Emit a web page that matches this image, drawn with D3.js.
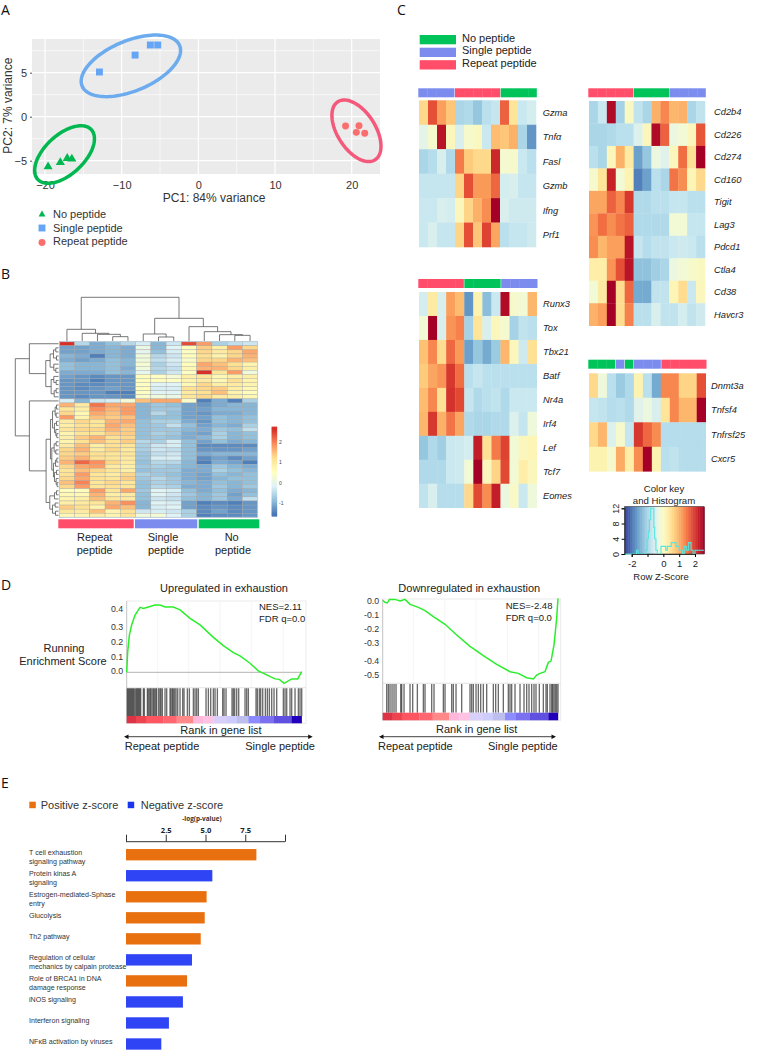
<!DOCTYPE html>
<html><head><meta charset="utf-8">
<script src="https://cdn.jsdelivr.net/npm/d3@7/dist/d3.min.js"></script>
<style>html,body{margin:0;padding:0;background:#fff}svg{display:block}text{font-family:"Liberation Sans",Arial,sans-serif}</style>
</head><body><svg id="c" width="775" height="1050"></svg>
<script>
// ---------- A: PCA
const pcaNo=[[-19.6,-5.68],[-18,-5.2],[-17.1,-4.73],[-16.5,-4.8]];
const pcaSingle=[[-12.9,5.08],[-8.25,7.0],[-6.26,8.15],[-5.3,8.15]];
const pcaRepeat=[[19.2,-1.06],[20.95,-1.03],[20.6,-1.78],[21.7,-1.89]];
// cx, cy, half-width, half-height, correlation (data units)
const pcaEllipses=[[-17.45,-4.3,3.9,3.27,.55,"#00B84F"],[-8.8,5.78,6.48,3.5,.5,"#6CABEE"],[20.62,-1.6,3.2,3.5,-.5,"#F4587A"]];
const pcaLegend=["No peptide","Single peptide","Repeat peptide"];
// ---------- B: clustered heatmap
const bColumnGroups=["Repeat\npeptide","Single\npeptide","No\npeptide"];
const bMatrix=[
[2.6,-.5,-1.0,-.8,-.5,-.2,-.9,-.3,2.4,1.8,-.6,-.4,-.3],
[-1.1,-1.1,-1.0,-.9,-1.0,.1,-.9,-.1,.6,1.4,.9,1.8,1.3],
[-1.1,-1.1,-1.0,-.9,-1.0,.0,-.8,-.2,.5,1.3,1.0,1.3,1.7],
[-.9,-1.0,-1.4,-.9,-1.0,.2,-.5,-.3,.6,1.2,.8,1.3,1.6],
[-1.0,-1.1,-1.0,-.8,-.9,.2,-.4,-.2,.4,1.3,1.3,1.6,1.5],
[-.8,-.9,-.9,-.8,-.9,.3,-.6,-.3,.6,1.7,1.5,1.2,.8],
[-.8,-.9,-.9,-.8,-1.0,.2,-.5,-.4,.7,1.6,1.6,1.3,.9],
[-1.0,-1.0,-1.0,-.8,-.9,.0,-.6,-.3,.5,2.6,1.1,1.8,.2],
[-1.1,-1.2,-1.3,-1.2,-1.2,.6,.5,.3,.9,1.1,.7,.9,.9],
[-1.2,-1.2,-1.4,-1.2,-1.2,.6,.6,.5,.8,1.0,.7,1.2,.8],
[-1.2,-1.3,-1.3,-1.2,-1.2,.5,-.1,-.1,.7,1.3,.9,1.0,.8],
[-1.2,-1.3,-1.2,-1.1,-1.2,.6,-.2,-.2,1.2,1.3,1.4,.9,.7],
[-1.2,-1.2,-1.2,-1.4,-1.4,.5,-.1,-.1,1.0,1.2,1.5,.8,.6],
[-1.2,-1.3,-1.2,-1.2,-1.3,.4,.2,.1,1.1,1.3,1.0,.9,.7],
[-.2,-.9,-.3,-.2,.3,1.5,1.7,1.7,.4,-1.4,-1.0,-1.4,-.6],
[1.6,1.0,2.1,1.7,1.7,-.9,-.7,-.8,-1.1,-1.2,-1.0,-.9,-.9],
[1.1,.9,1.9,1.6,1.8,-.9,-.7,-.7,-1.1,-1.1,-.9,-.9,-.9],
[1.3,.7,1.7,1.5,1.8,-.9,-.5,-.8,-1.1,-1.2,-1.0,-1.0,-.9],
[1.8,.8,1.5,1.4,1.5,-.9,-.8,-.8,-1.1,-1.1,-.8,-.9,-.8],
[1.0,1.3,1.1,1.6,1.7,-.8,-.6,-.6,-1.0,-1.2,-.8,-.9,-.8],
[.9,1.2,1.1,1.7,1.5,-.8,-.7,-.4,-.8,-1.1,-.9,-1.0,-.6],
[1.1,1.3,1.3,1.6,1.4,-.8,-.7,-.7,-.9,-1.0,-.7,-.8,-.4],
[.8,1.1,1.1,1.4,1.4,-.8,-.6,-.7,-1.0,-1.1,-.6,-.9,-.8],
[.9,1.4,1.6,1.2,1.3,-.8,-.7,-.8,-1.0,-.9,-.6,-.9,-.8],
[.8,1.2,1.5,1.2,1.4,-.5,-.6,-.2,-.8,-1.1,-.8,-1.0,-.9],
[1.0,1.5,.9,1.2,1.1,-.6,-.3,-.2,-.8,-1.3,-1.3,-1.3,-1.3],
[1.3,1.6,1.0,1.3,1.0,-.6,-.3,-.4,-.8,-1.2,-1.2,-1.2,-1.1],
[1.3,1.4,1.2,1.1,1.1,-.7,-.4,-.3,-.8,-1.0,-.9,-.9,-.9],
[1.4,1.6,1.2,1.1,1.0,-.7,-.2,-.2,-.8,-1.3,-1.1,-1.3,-1.1],
[1.6,2.2,1.9,1.3,1.0,-.8,-.5,-.5,-.9,-1.4,-1.0,-1.1,-1.4],
[1.3,1.7,1.8,1.0,.9,-.7,-.6,-.7,-.9,-1.0,-.7,-.9,-1.0],
[1.1,1.5,1.3,1.1,.9,-.8,-.7,-.7,-1.0,-1.0,-.6,-.8,-.9],
[1.2,1.8,1.1,1.0,1.3,-.6,-.7,-.8,-1.0,-1.1,-.8,-.9,-.8],
[1.3,1.7,1.2,1.1,1.4,-.7,-.5,-.7,-1.0,-1.1,-.9,-.8,-.8],
[1.5,2.0,1.1,1.3,1.1,-.8,-.6,-.7,-.9,-1.0,-.8,-.9,-.8],
[1.3,1.8,1.1,1.2,1.1,-.8,-.5,-.6,-1.0,-1.0,-.7,-.9,-.7],
[.6,.6,1.8,1.1,1.7,-.7,-.1,-.2,-.8,-1.0,-.8,-1.0,-.9],
[.7,.7,1.6,.9,1.0,-.8,-.1,-.3,-.7,-.9,-.7,-1.1,-.8],
[.8,.9,1.5,1.1,1.0,-.8,-.3,-.4,-.8,-.9,-.7,-1.0,-.4],
[.9,1.0,1.1,1.6,1.9,-.9,-.1,-.2,-1.1,-1.4,-1.3,-1.4,-1.2],
[1.4,1.2,.8,1.7,1.5,-.9,-.2,-.1,-1.1,-1.3,-1.2,-1.3,-1.2],
[1.1,1.0,1.5,.8,1.2,-.3,-.2,-.3,-.6,-1.3,-1.1,-1.3,-1.2],
[.7,.8,1.0,.8,1.1,.2,.3,-.1,-.6,-1.4,-1.3,-1.3,-1.2]];
// dendrograms: [height, left, right]; numbers are leaf indices
const bColumnTree=[131,[35,0,[23,1,[20,2,[13,3,4]]]],[68,[21,5,[12,6,7]],[43,8,[28,9,[19,10,[17,11,12]]]]]];
const bRowTree=[129,[87,0,[38,[25,[15,[8,1,2],[6,3,4]],[14,5,[8,6,7]]],[22,[14,8,[7,9,10]],[13,[7,11,12],13]]]],
 [87,14,[37,[24,[18,[10,[6,15,16],[7,17,18]],[12,[6,19,20],[8,21,[5,22,23]]]],[20,[13,[7,24,25],[8,26,27]],[15,[9,[5,28,29],30],[12,[6,31,32],[7,33,[4,34,35]]]]]],
 [26,[12,[6,36,37],38],[18,[10,39,40],[9,41,42]]]]]];
const bLegendTicks=[2,1,0,-1];
// ---------- C: gene heatmaps
const cLegend=["No peptide","Single peptide","Repeat peptide"];
const cGenes1=["Gzma","Tnfα","Fasl","Gzmb","Ifng","Prf1"];
const cValues1=[
[.55,1.75,1.1,.75,-1,-.95,-1.2,-.85,-.75,1.6,.4,-.7,-.6],
[-.4,-.1,2.3,.05,-.55,-.1,0,-.7,.85,.75,.95,-1,-1.7],
[-1,-.9,-.55,-.95,1.4,.7,.55,.55,2.1,-.15,-.1,-.7,-.85],
[-.75,-.75,-.75,-.75,.6,1.75,1.15,1.15,1.55,-.6,-.55,-.75,-.75],
[-.7,-.7,-.55,-.6,.05,.6,.95,1.25,2.5,-.55,-.65,-.65,-.65],
[-.7,-.55,-.75,-.75,.6,1.75,.75,1.85,1.05,-.85,-.75,-.75,-.65]];
const cGroups1=["S","S","S","S","R","R","R","R","R","N","N","N","N"];
const cGenes2=["Cd2b4","Cd226","Cd274","Cd160","Tigit","Lag3","Pdcd1","Ctla4","Cd38","Havcr3"];
const cValues2=[
[-1,-.7,2.4,-1.05,0,-.8,-1,.95,1.3,.9,.95,-1,-.8],
[-1,-1,-.95,-.85,-.85,-.5,.05,2.4,1.6,-.3,-.2,.05,1.7],
[-.85,-1,.05,.95,.3,-1.6,-1.2,-.3,-.45,.05,1.5,.45,2.5],
[-.1,.4,2.15,-.2,.15,-1.9,-1.6,-.85,-1,1.45,1.25,.1,.55],
[1.05,1.05,1.6,1.3,1.95,-.95,-.95,-.85,-.85,-.75,-.75,-.85,-.85],
[1.2,1.5,1.25,1.45,1.6,-.95,-.95,-.95,-.95,-.2,-.2,-.75,-.75],
[1.25,.9,1.1,1.1,2.3,-.75,-.9,-.8,-.8,-.7,-.65,-.7,-.85],
[.25,.25,1.2,1.75,2.3,-1.25,-1.25,-1.1,-1,-.3,-.2,-.1,0],
[-.2,.3,2.5,.5,1.55,-1.5,-1.5,-.8,-.8,.1,.5,-.7,.05],
[.95,1.1,2.5,.5,1.35,-.85,-.85,-.55,-.8,-.8,-.6,-.8,-.65]];
const cGroups2=["R","R","R","R","R","N","N","N","N","S","S","S","S"];
const cGenes3=["Runx3","Tox","Tbx21","Batf","Nr4a","Irf4","Lef","Tcf7","Eomes"];
const cValues3=[
[-.6,.3,-.55,1.1,.85,-1.7,.15,-1.3,-.7,2.4,-.1,-.2,.9],
[-.2,2.5,-.55,1.2,1.35,-1.05,.4,-.55,.05,-.15,-1.05,-.8,-.85],
[.8,1.3,.5,1.55,1.15,-1.6,-1.2,-1.5,-1.15,.9,.05,-.65,.45],
[.7,1.05,1.2,1.95,1.5,-.85,-.75,-.85,-.85,-.85,-.85,-.85,-.85],
[.85,1.3,.45,2,1.8,-.75,-.95,-.85,-.8,-.95,-.7,-.7,-.7],
[.9,1.95,.95,1.45,1.05,-.95,-1,-1,-.95,-.95,-.5,-.75,-.25],
[-1.2,-.95,-1.1,-.7,-.65,-.6,2.2,.45,1.4,1.85,-.2,.05,.1],
[-.95,-.95,-.95,-.7,-.65,-.2,2.5,.05,.6,1.8,-.2,.25,.05],
[-.8,-.55,-.9,-.9,-.9,.55,1.8,1.25,2.2,-.3,-.05,-.7,-.25]];
const cGroups3=["R","R","R","R","R","N","N","N","N","S","S","S","S"];
const cGenes4=["Dnmt3a","Tnfsf4","Tnfrsf25","Cxcr5"];
const cValues4=[
[.55,-.25,-.85,-1.15,-.95,.15,-.85,-1.5,1.3,1.3,.6,.6,1.75],
[-.75,-.8,-.9,-.85,-.95,-.45,-.3,-.55,.4,1.3,.9,.9,2.5],
[.55,.9,-.5,-.1,-.75,1.95,1.55,1.25,-.9,-.9,-.9,-.9,-.9],
[.15,.15,-.1,1,.25,1.25,2.5,.15,-.85,-.8,-.9,-.9,-.9]];
const cGroups4=["N","N","N","S","N","S","S","S","R","R","R","R","R"];
const keyTicks=[-2,-1,0,1,2];
const keyCountTicks=[0,4,8,12];
const histEdges=[-2.45,-1.7,-1.6,-1.1,-1.02,-.95,-.88,-.8,-.6,-.55,-.47,-.38,-.25,-.15,.15,.25,.32,.5,.8,1.0,1.2,1.32,1.45,1.6,1.75,1.88,2.0,2.57];
const histCounts=[0,1,0,1,4,6,9,12,7,4,1,0,0,2,1,2,2,3,2,1,0,2,1,3,1,0,1,1];
// ---------- D: enrichment plots
const esUpRank=[0,3,8,15,25,40,50,65,85,100,115,140,160,190,220,260,290,320,340,370,395,420,445,458,472,495,513,525];
const esUpScore=[0,.135,.243,.31,.374,.424,.417,.426,.439,.439,.426,.426,.407,.352,.309,.228,.174,.128,.107,.059,.009,-.017,-.043,-.046,-.072,-.043,-.043,.004];
const hitsUp=[2,5,8,11,14,17,20,23,27,30,33,36,39,42,50,53,62,65,69,72,76,80,83,87,90,96,100,103,107,115,120,130,133,137,140,144,148,153,160,168,172,182,188,200,205,210,215,238,245,252,260,265,272,288,292,298,316,320,324,330,336,355,360,365,388,392,398,402,408,416,422,428,435,442,450,470,475,480,490,495,505,515,520,525];
const colorUpEdges=[0,30,60,110,150,200,230,260,300,330,365,400,440,495,525];
const colorUpFills=["#DD3344","#EE4450","#FF5560","#FF6670","#FF8888","#FFB8DC","#FFC2E2","#D8D0FA","#CCCCFF","#BDBDEE","#8C8CFF","#7A70F0","#5F50E0","#2200BB"];
const esDownRank=[0,7,14,20,37,52,67,82,107,127,152,187,222,262,302,342,382,407,432,452,462,472,487,497,505,514,522,526];
const esDownScore=[-.002,-.016,-.02,.004,.004,-.007,.004,-.029,-.049,-.071,-.111,-.162,-.233,-.309,-.371,-.429,-.478,-.489,-.518,-.527,-.5,-.489,-.478,-.416,-.407,-.3,-.122,.011];
const hitsDown=[12,17,22,28,34,40,54,57,64,82,90,104,122,127,147,154,182,187,207,212,220,237,262,267,272,280,287,294,302,312,332,339,347,362,377,382,387,397,412,424,432,439,447,454,460,470,482,490,494,502,507,510,514,518,522,526];
const colorDownEdges=[0,30,60,110,150,200,230,262,300,330,367,400,440,497,526];
const colorDownFills=["#DD3344","#EE4450","#FF5560","#FF6670","#FF8888","#FFB8DC","#FFC2E2","#D8D0FA","#CCCCFF","#BDBDEE","#8C8CFF","#7A70F0","#5F50E0","#2200BB"];
const esUpTicks=[0,.1,.2,.3,.4];
const esDownTicks=[0,-.1,-.2,-.3,-.4,-.5];
// ---------- E: pathways
const pathways=[["T cell exhaustion","signaling pathway"],["Protein kinas A","signaling"],["Estrogen-mediated-Sphase","entry"],["Glucolysis"],["Th2 pathway"],["Regulation of cellular","mechanics by calpain protease"],["Role of BRCA1 in DNA","damage  response"],["iNOS signaling"],["Interferon  signaling"],["NFκB activation by viruses"]];
const pathwayValues=[8.2,5.43,5.07,4.95,4.7,4.15,3.84,3.58,2.7,2.22];
const pathwaySigns=["+","-","+","+","+","-","+","-","-","-"];
const pathwayTicks=[0,2.5,5,7.5,10];

const svg=d3.select("#c");
function T(p,x,y,s,o={}){const t=p.append("text").attr("x",x).attr("y",y).attr("dy",".35em").text(s)
  .attr("font-size",o.size||11).attr("fill",o.fill||"#222").attr("text-anchor",o.anchor||"start");
  if(o.style)t.attr("font-style",o.style); if(o.weight)t.attr("font-weight",o.weight);
  if(o.family)t.style("font-family",o.family); return t;}
const letterFont='"Open Sans",sans-serif';
[["A",1,10],["B",1,274],["C",397,10],["D",1,585],["E",1,783]].forEach(d=>T(svg,d[1],d[2],d[0],{size:14,family:letterFont,fill:"#111"}));

const groupColor={N:"#00C35A",S:"#7B8CEE",R:"#FF4D6A"};

// ===== Panel A
{const x=d3.scaleLinear().domain([-20,20]).range([45,351.7]);
 const y=d3.scaleLinear().domain([-5,5]).range([160.7,72.7]);
 const L=32,R=380,Tp=39,B=174;
 const g=svg.append("g");
 g.append("rect").attr("x",L).attr("y",Tp).attr("width",R-L).attr("height",B-Tp).attr("fill","#EBEBEB");
 [-15,-5,5,15].forEach(v=>g.append("line").attr("x1",x(v)).attr("x2",x(v)).attr("y1",Tp).attr("y2",B).attr("stroke","#fff").attr("stroke-width",.6));
 [-2.5,2.5,7.5].forEach(v=>g.append("line").attr("y1",y(v)).attr("y2",y(v)).attr("x1",L).attr("x2",R).attr("stroke","#fff").attr("stroke-width",.6));
 [-20,-10,0,10,20].forEach(v=>g.append("line").attr("x1",x(v)).attr("x2",x(v)).attr("y1",Tp).attr("y2",B).attr("stroke","#fff").attr("stroke-width",1.2));
 [-5,0,5].forEach(v=>g.append("line").attr("y1",y(v)).attr("y2",y(v)).attr("x1",L).attr("x2",R).attr("stroke","#fff").attr("stroke-width",1.2));
 const ax=g.append("g").attr("transform",`translate(0,${B})`).call(d3.axisBottom(x).tickValues([-20,-10,0,10,20]).tickSize(0).tickPadding(7));
 ax.select(".domain").remove(); ax.selectAll("text").attr("font-size",11).attr("fill","#333");
 const ay=g.append("g").attr("transform",`translate(${L},0)`).call(d3.axisLeft(y).tickValues([-5,0,5]).tickSize(2).tickPadding(3));
 ay.select(".domain").remove(); ay.selectAll("text").attr("font-size",11).attr("fill","#333"); ay.selectAll("line").attr("stroke","#555");
 T(g,214,197.5,"PC1: 84% variance",{size:12,anchor:"middle",fill:"#333"});
 T(g,0,0,"PC2: 7% variance",{size:12,anchor:"middle",fill:"#333"}).attr("transform","translate(7.5,105.7) rotate(-90)");
 const tri=d3.symbol().type(d3.symbolTriangle).size(36), sq=d3.symbol().type(d3.symbolSquare).size(48), ci=d3.symbol().type(d3.symbolCircle).size(38);
 const triL=d3.symbol().type(d3.symbolTriangle).size(20);
 pcaNo.forEach(d=>g.append("path").attr("d",tri).attr("transform",`translate(${x(d[0])},${y(d[1])})`).attr("fill","#00B84F"));
 pcaSingle.forEach(d=>g.append("path").attr("d",sq).attr("transform",`translate(${x(d[0])},${y(d[1])})`).attr("fill","#64A6F5"));
 pcaRepeat.forEach(d=>g.append("path").attr("d",ci).attr("transform",`translate(${x(d[0])},${y(d[1])})`).attr("fill","#FA6E6E"));
 pcaEllipses.forEach(e=>{const phi=Math.acos(e[4]);
  const ln=d3.line().x(t=>x(e[0]+e[2]*Math.cos(t))).y(t=>y(e[1]+e[3]*Math.cos(t-phi))).curve(d3.curveLinearClosed);
  g.append("path").attr("d",ln(d3.range(0,2*Math.PI,.05))).attr("fill","none").attr("stroke",e[5]).attr("stroke-width",3.5);});
 const lx=42,ly=[214.5,228,241.5];
 g.append("path").attr("d",triL).attr("transform",`translate(${lx},${ly[0]})`).attr("fill","#00B84F");
 g.append("path").attr("d",sq).attr("transform",`translate(${lx},${ly[1]})`).attr("fill","#64A6F5");
 g.append("path").attr("d",ci).attr("transform",`translate(${lx},${ly[2]+1})`).attr("fill","#FA6E6E");
 pcaLegend.forEach((s,i)=>T(g,53,ly[i],s,{fill:"#333"}));
}

// ===== Panel B
{const g=svg.append("g");
 const colors=["#4575B4","#91BFDB","#E0F3F8","#FFFFBF","#FEE090","#FC8D59","#D73027"];
 const dom=[-1.5,-.82,-.13,.55,1.23,1.92,2.6];
 const col=d3.scaleLinear().domain(dom).range(colors).clamp(true);
 const x=d3.scaleBand().domain(d3.range(13)).range([59.3,257.7]);
 const y=d3.scaleBand().domain(d3.range(43)).range([341.7,517.3]);
 g.selectAll("g.r").data(bMatrix).join("g").each(function(row,i){
  d3.select(this).selectAll("rect").data(row).join("rect").attr("x",(d,j)=>x(j)).attr("y",y(i)).attr("width",x.bandwidth()).attr("height",y.bandwidth())
   .attr("fill",d=>col(d)).attr("stroke","#a0a0a0").attr("stroke-width",.35);});
 g.append("rect").attr("x",59.3).attr("y",341.7).attr("width",198.4).attr("height",175.6).attr("fill","none").attr("stroke","#B9CBDA").attr("stroke-width",.8);
 // dendrograms
 function layout(n){ if(typeof n==="number")return {h:0,p:n,leaf:true};
  const a=layout(n[1]),b=layout(n[2]);return {h:n[0],a,b,p:(a.p+b.p)/2};}
 const hx=d3.scaleLinear().domain([0,131]).range([341,297.3]);
 const px=d3.scaleLinear().domain([0,12]).range([x(0)+x.bandwidth()/2,x(12)+x.bandwidth()/2]);
 const hy=d3.scaleLinear().domain([0,129]).range([58.5,15.3]);
 const py=d3.scaleLinear().domain([0,42]).range([y(0)+y.bandwidth()/2,y(42)+y.bandwidth()/2]);
 const stroke="#555";
 function drawTop(n){if(n.leaf)return;
  g.append("path").attr("d",`M${px(n.a.p)},${hx(n.a.h)}V${hx(n.h)}H${px(n.b.p)}V${hx(n.b.h)}`).attr("fill","none").attr("stroke",stroke).attr("stroke-width",.8);
  drawTop(n.a);drawTop(n.b);}
 function drawLeft(n){if(n.leaf)return;
  g.append("path").attr("d",`M${hy(n.a.h)},${py(n.a.p)}H${hy(n.h)}V${py(n.b.p)}H${hy(n.b.h)}`).attr("fill","none").attr("stroke",stroke).attr("stroke-width",.8);
  drawLeft(n.a);drawLeft(n.b);}
 drawTop(layout(bColumnTree)); drawLeft(layout(bRowTree));
 // annotation
 [[58.3,133.7,"R"],[135,197.3,"S"],[198.7,259.3,"N"]].forEach(d=>g.append("rect").attr("x",d[0]).attr("y",519.3).attr("width",d[1]-d[0]).attr("height",9).attr("fill",groupColor[d[2]]));
 const lab=[[94.7,94.7],[163,166],[231.7,233]];
 bColumnGroups.forEach((s,i)=>{const p=s.split("\n");T(g,lab[i][0],537,p[0],{anchor:"middle",fill:"#222"});T(g,lab[i][1],550,p[1],{anchor:"middle",fill:"#222"});});
 // legend
 const ly=d3.scaleLinear().domain([-1,2]).range([503.7,442]);
 const vals=d3.range(-1.6,2.73,.03);
 g.selectAll("rect.k").data(vals).join("rect").attr("x",271.7).attr("width",5.4).attr("y",d=>ly(d)-.6).attr("height",1.2).attr("fill",d=>col(d));
 bLegendTicks.forEach(v=>T(g,279,ly(v),v,{size:5,fill:"#444"}));
}

// ===== Panel C
const cColor=d3.scaleSequential(t=>d3.interpolateRdYlBu(1-t)).domain([-2.5,2.5]).clamp(true);
function heat(values,genes,groups,x0,x1,y0,y1,barY,labelX){
 const g=svg.append("g");
 const x=d3.scaleBand().domain(d3.range(13)).range([x0,x1]);
 const bx=d3.scaleBand().domain(d3.range(13)).range([x0-.7,x1+1.3]);
 const y=d3.scaleBand().domain(genes).range([y0,y1]);
 values.forEach((row,i)=>g.selectAll(null).data(row).join("rect").attr("x",(d,j)=>x(j)).attr("y",y(genes[i])).attr("width",x.bandwidth()+.3).attr("height",y.bandwidth()+.3).attr("fill",d=>cColor(d)));
 groups.forEach((k,j)=>g.append("rect").attr("x",bx(j)).attr("y",barY).attr("width",bx.bandwidth()+(groups[j+1]===k?.3:-.5)).attr("height",9).attr("fill",groupColor[k]));
 genes.forEach(s=>T(g,labelX,y(s)+y.bandwidth()/2,s,{size:9.3,style:"italic",fill:"#222"}));
}
heat(cValues1,cGenes1,cGroups1,419,536,100.3,247,88.3,542.7);
heat(cValues2,cGenes2,cGroups2,589,705,101,325.7,88.3,714);
heat(cValues3,cGenes3,cGroups3,419,536.7,292,507.7,279,543);
heat(cValues4,cGenes4,cGroups4,589,705.7,373.3,471.3,359.7,711);
{const g=svg.append("g");
 [[35,"N"],[47.7,"S"],[60.2,"R"]].forEach((d,i)=>{g.append("rect").attr("x",419.7).attr("y",d[0]).attr("width",36.3).attr("height",9.3).attr("fill",groupColor[d[1]]);
  T(g,462,[38,50.3,63.3][i],cLegend[i],{fill:"#222"});});
 // colour key
 const x=d3.scaleLinear().domain([-2,2]).range([631.7,695]);
 const y=d3.scaleLinear().domain([0,12]).range([554,508.3]);
 const kv=d3.range(-2.45,2.57,.04);
 g.selectAll("rect.k").data(kv).join("rect").attr("x",d=>x(d)).attr("y",506.7).attr("width",1).attr("height",47.3).attr("fill",d=>cColor(d));
 g.append("rect").attr("x",x(-2.45)).attr("y",506.7).attr("width",x(2.57)-x(-2.45)).attr("height",47.3).attr("fill","none").attr("stroke","#333").attr("stroke-width",.6);
 const ln=d3.line().x((d,i)=>x(histEdges[i])).y(d=>y(d)).curve(d3.curveStepAfter);
 g.append("path").attr("d",ln(histCounts)).attr("fill","none").attr("stroke","#55E5E0").attr("stroke-width",1.1);
 const ax=g.append("g").attr("transform","translate(0,554)").call(d3.axisBottom(x).tickValues(keyTicks).tickSize(3).tickPadding(3));
 ax.select(".domain").attr("stroke","#333"); ax.selectAll("text").attr("font-size",9.5).attr("fill","#222").text(d=>d===-1?"":d);
 const ay=g.append("g").attr("transform",`translate(${x(-2.45)},0)`).call(d3.axisLeft(y).tickValues(keyCountTicks).tickSize(3).tickPadding(1));
 ay.select(".domain").attr("stroke","#333");
 ay.selectAll("text").attr("font-size",9).attr("fill","#222").attr("text-anchor","middle").attr("dy",0).attr("transform",function(d){return `rotate(-90 ${d3.select(this).attr("x")} ${y(d)-y(d)}) translate(0,-2)`;});
 T(g,664,489,"Color key",{size:9.6,anchor:"middle"}); T(g,664,500.7,"and Histogram",{size:9.6,anchor:"middle"});
 T(g,661,577,"Row Z-Score",{size:9.5,anchor:"middle"});
}

// ===== Panel D
const narrow='"Liberation Sans Narrow","Liberation Sans",sans-serif';
function gsea(o){
 const g=svg.append("g");
 const x=d3.scaleLinear().domain([0,o.maxRank]).range([o.xL,o.xR]);
 const y=d3.scaleLinear().domain(o.yDom).range(o.yRange);
 g.append("rect").attr("x",o.bL).attr("y",o.top).attr("width",o.bR-o.bL).attr("height",o.bottom-o.top).attr("fill","#fff").attr("stroke","#E6E6E6").attr("stroke-width",.8);
 o.grid.forEach(v=>g.append("line").attr("x1",x(v)).attr("x2",x(v)).attr("y1",o.top).attr("y2",o.midY).attr("stroke","#F0F0F0").attr("stroke-width",.7));
 g.append("line").attr("x1",o.bL).attr("x2",o.bR).attr("y1",o.midY).attr("y2",o.midY).attr("stroke","#D8D8D8").attr("stroke-width",.7);
 g.append("line").attr("x1",o.bL).attr("x2",o.bL).attr("y1",o.top).attr("y2",o.bottom).attr("stroke","#BBB").attr("stroke-width",.8);
 if(o.zeroLine) g.append("line").attr("x1",o.bL).attr("x2",o.xR).attr("y1",y(0)).attr("y2",y(0)).attr("stroke","#AAA").attr("stroke-width",.9);
 g.append("path").attr("d",d3.line().x((d,i)=>x(o.rank[i])).y(d=>y(d))(o.score)).attr("fill","none").attr("stroke","#2BEE2B").attr("stroke-width",1.5);
 o.hits.forEach(v=>g.append("line").attr("x1",x(v)).attr("x2",x(v)).attr("y1",o.hitTop).attr("y2",o.hitBot).attr("stroke","#000").attr("stroke-opacity",.58).attr("stroke-width",1.35));
 o.fills.forEach((c,i)=>g.append("rect").attr("x",x(o.edges[i])).attr("y",o.hitBot).attr("width",x(o.edges[i+1])-x(o.edges[i])+.2).attr("height",o.bottom-o.hitBot).attr("fill",c));
 o.ticks.forEach((v,i)=>T(g,o.bL-3.5,o.tickY[i],d3.format(".1f")(v).replace("−","-"),{size:8.8,anchor:"end",family:narrow,fill:"#333"}));
 T(g,o.titleX,588.3,o.title,{anchor:"middle"});
 T(g,o.nesX,o.nesY,o.nes,{size:9.5}); T(g,o.nesX,o.nesY+11.7,"FDR q=0.0",{size:9.5});
 T(g,o.rankX,o.rankY,"Rank in gene list",{anchor:"middle"});
 const ay=736.7,h=2.2;
 g.append("line").attr("x1",o.aL+3).attr("x2",o.aR-3).attr("y1",ay).attr("y2",ay).attr("stroke","#111").attr("stroke-width",.8);
 g.append("path").attr("d",`M${o.aL},${ay}l4.5,${-h}v${2*h}z M${o.aR},${ay}l-4.5,${-h}v${2*h}z`).attr("fill","#111");
 T(g,o.lblL,746,"Repeat peptide"); T(g,o.lblR,746,"Single peptide",{anchor:"end"});
}
gsea({maxRank:525,xL:126.7,xR:301.7,yDom:[0,.4],yRange:[672.3,611],bL:126.7,bR:306,top:601,bottom:723.3,midY:687.7,hitTop:688.3,hitBot:716,
 grid:[93,185,280,375,470],rank:esUpRank,score:esUpScore,hits:hitsUp,edges:colorUpEdges,fills:colorUpFills,ticks:esUpTicks,tickY:[670.7,656.7,641.7,626.7,609.3],
 title:"Upregulated in exhaustion",titleX:224,nes:"NES=2.11",nesX:259,nesY:607,rankX:221,rankY:730,aL:124,aR:312.7,lblL:124.7,lblR:315,zeroLine:true});
gsea({maxRank:526,xL:382.7,xR:558,yDom:[0,-.5],yRange:[600,675],bL:382.7,bR:560.7,top:599,bottom:720.3,midY:683.3,hitTop:684,hitBot:712.7,
 grid:[92,186,280,374,468],rank:esDownRank,score:esDownScore,hits:hitsDown,edges:colorDownEdges,fills:colorDownFills,ticks:esDownTicks,tickY:[601,615,629,643,660.7,675],
 title:"Downregulated in exhaustion",titleX:469.3,nes:"NES=-2.48",nesX:505.7,nesY:605.7,rankX:476.7,rankY:729,aL:379,aR:556,lblL:378,lblR:557.7,zeroLine:false});
T(svg,64,647.7,"Running",{anchor:"middle"}); T(svg,63,660.7,"Enrichment Score",{anchor:"middle"});

// ===== Panel E
{const g=svg.append("g");
 const x=d3.scaleLinear().domain([0,10]).range([126,285]);
 const y=d3.scaleBand().domain(d3.range(10)).range([844.2,1054.5]).paddingInner(.46).paddingOuter(.23);
 const colors={"+":"#E8700F","-":"#2F45F5"};
 g.append("rect").attr("x",29.3).attr("y",801.7).attr("width",6.5).attr("height",6.5).attr("fill",colors["+"]);
 T(g,40.7,805,"Positive z-score",{size:11,fill:"#333"});
 g.append("rect").attr("x",127.7).attr("y",801.7).attr("width",6.5).attr("height",6.5).attr("fill","#1A35F0");
 T(g,140.7,805,"Negative z-score",{size:11,fill:"#333"});
 T(g,202,819,"-log(p-value)",{size:6.4,weight:"bold",anchor:"middle",family:'"Open Sans",sans-serif',fill:"#333"});
 const ax=g.append("g").attr("transform","translate(0,841.7)").call(d3.axisTop(x).tickValues(pathwayTicks).tickSize(7).tickPadding(1.5));
 ax.select(".domain").attr("stroke","#333").attr("d","M126,0H285");
 ax.selectAll("line").attr("stroke","#333");
 ax.selectAll("text").attr("font-size",7.6).attr("font-weight","bold").attr("fill","#222").style("font-family",'"Open Sans",sans-serif').text(d=>(d===0||d===10)?"":d3.format(".1f")(d));
 g.selectAll("rect.b").data(pathwayValues).join("rect").attr("x",x(0)).attr("y",(d,i)=>y(i)).attr("width",d=>x(d)-x(0)).attr("height",y.bandwidth()).attr("fill",(d,i)=>colors[pathwaySigns[i]]);
 pathways.forEach((lines,i)=>{const c=y(i)+y.bandwidth()/2;
  if(lines.length===2){T(g,29,c-2.2,lines[0],{size:7.1,fill:"#333"});T(g,29,c+6.3,lines[1],{size:7.1,fill:"#333"});}
  else T(g,29,c-2.3,lines[0],{size:7.1,fill:"#333"});});
}
</script></body></html>
